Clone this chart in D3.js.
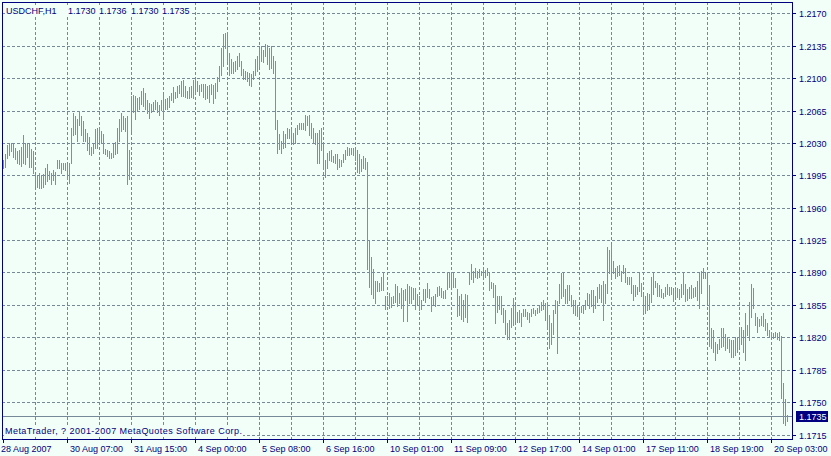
<!DOCTYPE html>
<html>
<head>
<meta charset="utf-8">
<script src="https://cdn.jsdelivr.net/npm/d3@7"></script>
<style>
  html, body { margin: 0; padding: 0; background: #F2FFF8; }
  svg { display: block; }
  text { font-family: Tahoma, "Liberation Sans", Arial, sans-serif; font-size: 9px; fill: #000080; }
</style>
</head>
<body>
<svg id="chart" width="831" height="456"></svg>
<script>
// ---------- DATA ----------
const symbol = "USDCHF,H1";
const lastBarOHLC = ["1.1730", "1.1736", "1.1730", "1.1735"];
const lastPrice = 1.1735;
const copyright = "MetaTrader, ? 2001-2007 MetaQuotes Software Corp.";

const priceTicks = [1.2170, 1.2135, 1.2100, 1.2065, 1.2030, 1.1995, 1.1960,
                    1.1925, 1.1890, 1.1855, 1.1820, 1.1785, 1.1750, 1.1715];

const timeLabels = ["28 Aug 2007", "30 Aug 07:00", "31 Aug 15:00", "4 Sep 00:00",
                    "5 Sep 08:00", "6 Sep 16:00", "10 Sep 01:00", "11 Sep 09:00",
                    "12 Sep 17:00", "14 Sep 01:00", "17 Sep 11:00", "18 Sep 19:00",
                    "20 Sep 03:00"];

// hourly bar highs
const highs = [
1.2012,1.2018,1.2028,1.2029,1.2030,1.2029,1.2024,1.2021,1.2022,1.2026,
1.2038,1.2030,1.2029,1.2029,1.2023,1.2021,1.1996,1.1994,1.1997,1.1995,
1.1996,1.2003,1.2007,1.2000,1.1997,1.2001,1.1999,1.2012,1.2012,1.2008,
1.2008,1.2008,1.2007,1.2008,1.2046,1.2062,1.2059,1.2056,1.2065,1.2059,
1.2054,1.2045,1.2041,1.2036,1.2026,1.2030,1.2045,1.2046,1.2046,1.2043,
1.2040,1.2023,1.2022,1.2021,1.2019,1.2029,1.2031,1.2046,1.2056,1.2062,
1.2059,1.2057,1.2059,1.2022,1.2081,1.2082,1.2081,1.2078,1.2080,1.2086,
1.2089,1.2084,1.2076,1.2073,1.2072,1.2074,1.2076,1.2074,1.2071,1.2076,
1.2083,1.2077,1.2078,1.2081,1.2084,1.2090,1.2085,1.2091,1.2093,1.2097,
1.2098,1.2091,1.2086,1.2090,1.2091,1.2098,1.2099,1.2097,1.2093,1.2094,
1.2094,1.2094,1.2092,1.2093,1.2094,1.2093,1.2095,1.2101,1.2113,1.2133,
1.2148,1.2149,1.2150,1.2127,1.2121,1.2117,1.2119,1.2124,1.2127,1.2119,
1.2110,1.2108,1.2107,1.2106,1.2104,1.2108,1.2121,1.2124,1.2131,1.2135,
1.2130,1.2137,1.2136,1.2132,1.2135,1.2124,1.2119,1.2055,1.2040,1.2032,
1.2043,1.2040,1.2046,1.2045,1.2045,1.2041,1.2046,1.2049,1.2052,1.2051,
1.2051,1.2060,1.2059,1.2060,1.2052,1.2046,1.2041,1.2041,1.2044,1.2046,
1.2031,1.2012,1.2019,1.2021,1.2022,1.2016,1.2018,1.2018,1.2013,1.2012,
1.2018,1.2022,1.2026,1.2025,1.2024,1.2025,1.2023,1.2022,1.2018,1.2013,
1.2016,1.2014,1.2009,1.1925,1.1907,1.1894,1.1881,1.1881,1.1879,1.1885,
1.1890,1.1865,1.1865,1.1868,1.1863,1.1865,1.1878,1.1875,1.1868,1.1873,
1.1871,1.1872,1.1878,1.1875,1.1874,1.1873,1.1873,1.1867,1.1865,1.1860,
1.1872,1.1872,1.1879,1.1872,1.1863,1.1865,1.1867,1.1874,1.1875,1.1873,
1.1870,1.1871,1.1891,1.1890,1.1891,1.1889,1.1884,1.1872,1.1865,1.1867,
1.1860,1.1867,1.1866,1.1889,1.1899,1.1892,1.1895,1.1892,1.1894,1.1892,
1.1894,1.1893,1.1895,1.1889,1.1880,1.1879,1.1876,1.1865,1.1865,1.1865,
1.1852,1.1849,1.1835,1.1839,1.1852,1.1862,1.1858,1.1847,1.1849,1.1846,
1.1851,1.1851,1.1847,1.1846,1.1851,1.1852,1.1850,1.1852,1.1854,1.1858,
1.1860,1.1857,1.1858,1.1844,1.1835,1.1849,1.1860,1.1859,1.1878,1.1889,
1.1889,1.1872,1.1877,1.1876,1.1866,1.1860,1.1860,1.1854,1.1853,1.1854,
1.1854,1.1860,1.1868,1.1867,1.1871,1.1871,1.1865,1.1874,1.1878,1.1876,
1.1881,1.1878,1.1918,1.1914,1.1921,1.1902,1.1895,1.1897,1.1898,1.1892,
1.1898,1.1895,1.1885,1.1885,1.1885,1.1876,1.1876,1.1874,1.1889,1.1879,
1.1867,1.1865,1.1868,1.1867,1.1885,1.1889,1.1881,1.1879,1.1876,1.1872,
1.1868,1.1874,1.1878,1.1874,1.1874,1.1873,1.1872,1.1873,1.1872,1.1878,
1.1889,1.1878,1.1872,1.1874,1.1876,1.1873,1.1874,1.1881,1.1889,1.1892,
1.1895,1.1891,1.1889,1.1876,1.1830,1.1828,1.1815,1.1813,1.1818,1.1830,
1.1830,1.1824,1.1819,1.1818,1.1817,1.1817,1.1820,1.1820,1.1831,1.1831,
1.1828,1.1846,1.1833,1.1858,1.1878,1.1873,1.1846,1.1842,1.1840,1.1843,
1.1846,1.1840,1.1835,1.1828,1.1826,1.1825,1.1826,1.1825,1.1826,1.1821,
1.1771,1.1753,1.1736
];

// hourly bar lows
const lows = [
1.2003,1.2004,1.2014,1.2017,1.2021,1.2015,1.2013,1.2008,1.2007,1.2005,
1.2008,1.2007,1.2015,1.2004,1.2004,1.1997,1.1983,1.1982,1.1981,1.1981,
1.1982,1.1986,1.1989,1.1991,1.1986,1.1990,1.1986,1.2003,1.2003,1.1998,
1.2002,1.2001,1.1991,1.1987,1.2008,1.2038,1.2040,1.2032,1.2049,1.2038,
1.2032,1.2032,1.2022,1.2018,1.2017,1.2019,1.2025,1.2025,1.2029,1.2030,
1.2019,1.2018,1.2016,1.2014,1.2014,1.2015,1.2018,1.2019,1.2032,1.2043,
1.2045,1.2043,1.1986,1.1991,1.2043,1.2063,1.2056,1.2065,1.2067,1.2072,
1.2070,1.2067,1.2062,1.2057,1.2063,1.2065,1.2067,1.2063,1.2060,1.2066,
1.2057,1.2067,1.2067,1.2069,1.2076,1.2074,1.2078,1.2080,1.2084,1.2081,
1.2081,1.2080,1.2079,1.2078,1.2080,1.2079,1.2084,1.2086,1.2082,1.2086,
1.2080,1.2077,1.2078,1.2074,1.2083,1.2073,1.2078,1.2086,1.2097,1.2103,
1.2113,1.2132,1.2119,1.2103,1.2105,1.2106,1.2108,1.2110,1.2113,1.2103,
1.2099,1.2099,1.2097,1.2093,1.2092,1.2099,1.2103,1.2108,1.2113,1.2119,
1.2117,1.2124,1.2115,1.2110,1.2111,1.2106,1.2045,1.2019,1.2023,1.2019,
1.2024,1.2026,1.2035,1.2035,1.2032,1.2029,1.2030,1.2040,1.2045,1.2045,
1.2045,1.2044,1.2049,1.2039,1.2035,1.2030,1.2029,1.2008,1.2008,1.2022,
1.2002,1.1993,1.2003,1.2011,1.2010,1.2009,1.2008,1.2002,1.2004,1.2005,
1.2009,1.2013,1.2017,1.2017,1.2018,1.2017,1.2011,1.1999,1.1998,1.2000,
1.2003,1.2002,1.1894,1.1874,1.1867,1.1862,1.1857,1.1870,1.1870,1.1871,
1.1871,1.1851,1.1857,1.1852,1.1853,1.1857,1.1858,1.1854,1.1857,1.1852,
1.1838,1.1860,1.1838,1.1857,1.1857,1.1861,1.1851,1.1856,1.1849,1.1851,
1.1860,1.1858,1.1863,1.1862,1.1848,1.1856,1.1854,1.1865,1.1866,1.1863,
1.1862,1.1862,1.1872,1.1874,1.1874,1.1874,1.1874,1.1843,1.1844,1.1840,
1.1838,1.1842,1.1836,1.1878,1.1883,1.1880,1.1885,1.1884,1.1885,1.1887,
1.1885,1.1885,1.1887,1.1871,1.1873,1.1863,1.1835,1.1847,1.1851,1.1845,
1.1836,1.1824,1.1818,1.1818,1.1831,1.1833,1.1838,1.1836,1.1836,1.1832,
1.1843,1.1843,1.1840,1.1836,1.1843,1.1846,1.1844,1.1846,1.1847,1.1849,
1.1851,1.1839,1.1830,1.1808,1.1813,1.1824,1.1846,1.1803,1.1857,1.1862,
1.1865,1.1857,1.1857,1.1860,1.1854,1.1846,1.1844,1.1843,1.1843,1.1847,
1.1846,1.1851,1.1856,1.1852,1.1854,1.1847,1.1852,1.1858,1.1862,1.1858,
1.1839,1.1857,1.1868,1.1889,1.1884,1.1889,1.1884,1.1886,1.1887,1.1881,
1.1889,1.1880,1.1878,1.1878,1.1868,1.1860,1.1865,1.1867,1.1870,1.1865,
1.1847,1.1846,1.1849,1.1851,1.1858,1.1867,1.1874,1.1865,1.1865,1.1863,
1.1862,1.1865,1.1867,1.1866,1.1867,1.1859,1.1863,1.1863,1.1861,1.1863,
1.1867,1.1859,1.1860,1.1862,1.1862,1.1863,1.1865,1.1860,1.1852,1.1868,
1.1884,1.1884,1.1858,1.1811,1.1808,1.1804,1.1796,1.1803,1.1807,1.1809,
1.1811,1.1806,1.1808,1.1804,1.1799,1.1799,1.1801,1.1804,1.1809,1.1813,
1.1804,1.1795,1.1823,1.1817,1.1842,1.1852,1.1833,1.1826,1.1832,1.1833,
1.1832,1.1828,1.1822,1.1821,1.1820,1.1819,1.1820,1.1818,1.1817,1.1754,
1.1727,1.1725,1.1730
];

// ---------- LAYOUT ----------
const W = 831, H = 456;
const bg = "#F2FFF8";
const plot = { left: 2, top: 2, right: 792, bottom: 439 };
const barsPerLabel = 32, barsPerGrid = 16;
const gridColor = "#778899", frameColor = "#000080", barColor = "#14e014";

const n = Math.min(highs.length, lows.length);
const bars = d3.range(n).map(i => ({ i, high: highs[i], low: lows[i] }));

const x = d3.scaleLinear().domain([0, n - 1]).range([3, 3 + 2 * (n - 1)]);
const y = d3.scaleLinear().domain([1.1715, 1.2170]).range([434.5, 13.3]);
const px = v => Math.round(v) + 0.5;

const svg = d3.select("#chart");
svg.append("rect").attr("width", W).attr("height", H).attr("fill", bg);

const g = svg.append("g").attr("shape-rendering", "crispEdges");

// horizontal grid
g.append("g").selectAll("line").data(priceTicks).join("line")
  .attr("x1", plot.left).attr("x2", plot.right)
  .attr("y1", d => px(y(d))).attr("y2", d => px(y(d)))
  .attr("stroke", gridColor).attr("stroke-dasharray", "3,2");

// vertical grid
const gridIdx = d3.range(barsPerGrid, n, barsPerGrid);
g.append("g").selectAll("line").data(gridIdx).join("line")
  .attr("x1", d => px(x(d))).attr("x2", d => px(x(d)))
  .attr("y1", plot.top).attr("y2", plot.bottom)
  .attr("stroke", gridColor).attr("stroke-dasharray", "3,2");

// last price line
g.append("line")
  .attr("x1", plot.left).attr("x2", plot.right)
  .attr("y1", px(y(lastPrice))).attr("y2", px(y(lastPrice)))
  .attr("stroke", gridColor);

// text with opaque background (as the terminal draws it)
function labelWithBg(parent, tx, ty, str, len) {
  const grp = parent.append("g");
  const r = grp.append("rect").attr("fill", bg);
  const t = grp.append("text").attr("x", tx).attr("y", ty).text(str);
  if (len) t.attr("textLength", len).attr("lengthAdjust", "spacing");
  const b = t.node().getBBox();
  r.attr("x", b.x - 1).attr("y", b.y).attr("width", b.width + 2).attr("height", b.height);
  return grp;
}

// copyright
labelWithBg(svg, 5, 434, copyright, 237);

// bars (high-low)
g.append("g").selectAll("line").data(bars).join("line")
  .attr("x1", d => px(x(d.i))).attr("x2", d => px(x(d.i)))
  .attr("y1", d => Math.round(y(d.high)))
  .attr("y2", d => Math.round(y(d.low)) + 1)
  .attr("stroke", barColor).attr("stroke-width", 1);

// frame
g.append("rect")
  .attr("x", plot.left + 0.5).attr("y", plot.top + 0.5)
  .attr("width", plot.right - plot.left).attr("height", plot.bottom - plot.top)
  .attr("fill", "none").attr("stroke", frameColor);

// right price axis
const yAxis = svg.append("g");
yAxis.selectAll("line").data(priceTicks).join("line")
  .attr("shape-rendering", "crispEdges")
  .attr("x1", plot.right).attr("x2", plot.right + 4)
  .attr("y1", d => px(y(d))).attr("y2", d => px(y(d)))
  .attr("stroke", frameColor);
yAxis.selectAll("text").data(priceTicks).join("text")
  .attr("x", 799).attr("y", d => Math.round(y(d)) + 3.5)
  .text(d => d3.format(".4f")(d));

// last price box
svg.append("rect").attr("x", 796).attr("y", Math.round(y(lastPrice)) - 5)
  .attr("width", 32).attr("height", 11).attr("fill", frameColor)
  .attr("shape-rendering", "crispEdges");
svg.append("text").attr("x", 799).attr("y", Math.round(y(lastPrice)) + 3.5)
  .style("fill", "#ffffff").text(d3.format(".4f")(lastPrice));

// bottom time axis
const labelIdx = timeLabels.map((_, k) => k * barsPerLabel);
const xAxis = svg.append("g");
xAxis.selectAll("line").data(labelIdx).join("line")
  .attr("shape-rendering", "crispEdges")
  .attr("x1", d => px(x(d))).attr("x2", d => px(x(d)))
  .attr("y1", plot.bottom).attr("y2", plot.bottom + 4)
  .attr("stroke", frameColor);
xAxis.selectAll("text").data(timeLabels).join("text")
  .attr("x", (d, k) => k === 0 ? 1 : x(labelIdx[k]) + 3)
  .attr("y", 452)
  .text(d => d);

// header
const headerX = [6, 68, 99, 131, 162];
const headerGrp = svg.append("g");
const headerBg = headerGrp.append("rect").attr("fill", bg);
headerGrp.selectAll("text").data([symbol, ...lastBarOHLC]).join("text")
  .attr("x", (d, k) => headerX[k]).attr("y", 14)
  .text(d => d);
const hb = headerGrp.node().getBBox();
headerBg.attr("x", hb.x - 1).attr("y", hb.y).attr("width", hb.width + 3).attr("height", hb.height);
</script>
</body>
</html>
